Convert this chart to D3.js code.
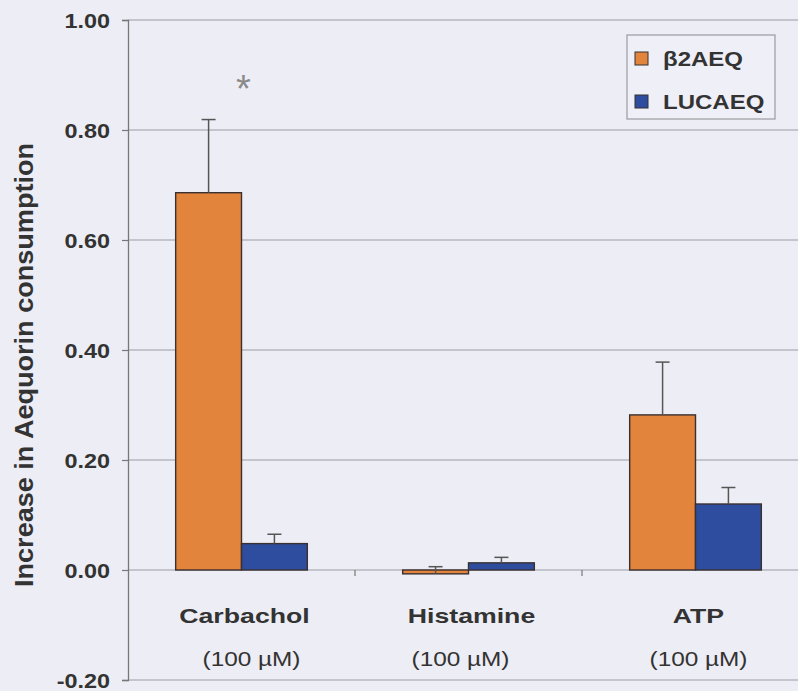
<!DOCTYPE html>
<html>
<head>
<meta charset="utf-8">
<script src="https://cdn.jsdelivr.net/npm/d3@7"></script>
<style>
  html, body { margin: 0; padding: 0; background: #ededf5; }
  svg { display: block; }
  text { font-family: "Liberation Sans", Arial, sans-serif; fill: #333; }
</style>
</head>
<body>
<svg id="chart" width="798" height="691"></svg>
<script>
// Agonist-induced increase in aequorin consumption, two aequorin constructs
const categories = ["Carbachol", "Histamine", "ATP"];
const concentrations = ["(100 µM)", "(100 µM)", "(100 µM)"];
const seriesNames = ["β2AEQ", "LUCAEQ"];
const beta2Values = [0.686, -0.007, 0.282];
const beta2Errors = [0.133, 0.013, 0.096];
const lucValues = [0.048, 0.013, 0.120];
const lucErrors = [0.017, 0.010, 0.030];
const yTicks = [-0.2, 0, 0.2, 0.4, 0.6, 0.8, 1.0];
const significance = ["*", "", ""];
const seriesColors = ["#e3843c", "#2e4d9e"];

const series = [
  { name: seriesNames[0], values: beta2Values, errors: beta2Errors, color: seriesColors[0] },
  { name: seriesNames[1], values: lucValues, errors: lucErrors, color: seriesColors[1] }
];

const svg = d3.select("#chart");
const plot = { left: 128, right: 809, top: 20, bottom: 680 };

const y = d3.scaleLinear().domain([-0.2, 1.0]).range([plot.bottom, plot.top]);
const x = d3.scaleBand().domain(categories).range([plot.left, plot.right]).padding(0);
const groupHalf = x.bandwidth() * 0.29;
const xs = d3.scaleBand().domain(seriesNames).range([-groupHalf, groupHalf]).padding(0);

// Stretch text horizontally to the wide lettering used throughout the figure
function widen(sel, k) {
  sel.each(function () {
    const len = this.getComputedTextLength();
    d3.select(this).attr("textLength", len * k).attr("lengthAdjust", "spacingAndGlyphs");
  });
}

// Horizontal gridlines (also serve as top and bottom frame)
svg.append("g")
  .selectAll("line")
  .data(yTicks)
  .join("line")
  .attr("x1", plot.left)
  .attr("x2", 812)
  .attr("y1", d => y(d))
  .attr("y2", d => y(d))
  .attr("stroke", "#9c9ca4")
  .attr("stroke-width", 1.2);

// Y axis with ticks and labels
const yAxis = d3.axisLeft(y)
  .tickValues(yTicks)
  .tickSize(6)
  .tickPadding(12)
  .tickFormat(d => d.toFixed(2));

const yg = svg.append("g")
  .attr("transform", `translate(${plot.left},0)`)
  .call(yAxis);
yg.select(".domain").attr("stroke", "#777").attr("stroke-width", 1.3);
yg.selectAll(".tick line").attr("stroke", "#777").attr("stroke-width", 1.2);
yg.selectAll(".tick text")
  .attr("font-family", "Liberation Sans, Arial, sans-serif")
  .attr("font-size", 20)
  .attr("font-weight", "bold")
  .attr("fill", "#333")
  .attr("dy", "0.36em")
  .call(widen, 1.17);

// Category separators on the zero line
svg.append("g")
  .selectAll("line")
  .data(categories.slice(1))
  .join("line")
  .attr("x1", d => x(d))
  .attr("x2", d => x(d))
  .attr("y1", y(0))
  .attr("y2", y(0) + 6)
  .attr("stroke", "#777")
  .attr("stroke-width", 1.2);

// Bars
const groups = svg.append("g")
  .selectAll("g")
  .data(categories)
  .join("g")
  .attr("transform", d => `translate(${x(d) + x.bandwidth() / 2},0)`);

groups.each(function (cat, i) {
  const g = d3.select(this);
  series.forEach(s => {
    const v = s.values[i];
    g.append("rect")
      .attr("x", xs(s.name))
      .attr("width", xs.bandwidth())
      .attr("y", y(Math.max(0, v)))
      .attr("height", Math.abs(y(v) - y(0)))
      .attr("fill", s.color)
      .attr("stroke", "#3a3030")
      .attr("stroke-width", 1.4);
  });
  // error bars (upper arm only)
  series.forEach(s => {
    const v = s.values[i], e = s.errors[i];
    const cx = xs(s.name) + xs.bandwidth() / 2;
    g.append("line")
      .attr("x1", cx).attr("x2", cx)
      .attr("y1", y(v)).attr("y2", y(v + e))
      .attr("stroke", "#555").attr("stroke-width", 1.5);
    g.append("line")
      .attr("x1", cx - 7).attr("x2", cx + 7)
      .attr("y1", y(v + e)).attr("y2", y(v + e))
      .attr("stroke", "#555").attr("stroke-width", 1.5);
  });
  // significance marker
  if (significance[i]) {
    const top = d3.max(series, s => s.values[i] + s.errors[i]);
    g.append("text")
      .attr("x", 2)
      .attr("y", y(top) - 18)
      .attr("text-anchor", "middle")
      .attr("font-size", 38)
      .style("fill", "#8a8a8a")
      .text(significance[i]);
  }
});

// Category labels
const labelNudge = [10, -8, 3];
svg.append("g")
  .selectAll("text")
  .data(categories)
  .join("text")
  .attr("x", d => x(d) + x.bandwidth() / 2 + 3)
  .attr("y", 623)
  .attr("text-anchor", "middle")
  .attr("font-size", 21)
  .attr("font-weight", "bold")
  .text(d => d)
  .call(widen, 1.27);

svg.append("g")
  .selectAll("text")
  .data(concentrations)
  .join("text")
  .attr("x", (d, i) => x(categories[i]) + x.bandwidth() / 2 + labelNudge[i])
  .attr("y", 666)
  .attr("text-anchor", "middle")
  .attr("font-size", 21)
  .text(d => d)
  .call(widen, 1.16);

// Y axis title
svg.append("text")
  .attr("transform", `translate(33,${(143 + 587) / 2}) rotate(-90)`)
  .attr("text-anchor", "middle")
  .attr("font-size", 26)
  .attr("font-weight", "bold")
  .attr("textLength", 444)
  .attr("lengthAdjust", "spacingAndGlyphs")
  .text("Increase in Aequorin consumption");

// Legend
const legend = svg.append("g").attr("transform", "translate(627,35)");
legend.append("rect")
  .attr("width", 148).attr("height", 84)
  .attr("fill", "#efeff7")
  .attr("stroke", "#9a9aa0")
  .attr("stroke-width", 1.2);
const items = legend.selectAll("g.item")
  .data(series)
  .join("g")
  .attr("class", "item")
  .attr("transform", (d, i) => `translate(8,${17 + i * 43})`);
items.append("rect")
  .attr("width", 13).attr("height", 13)
  .attr("fill", d => d.color)
  .attr("stroke", "#333")
  .attr("stroke-width", 1);
items.append("text")
  .attr("x", 28)
  .attr("y", 14)
  .attr("font-size", 20)
  .attr("font-weight", "bold")
  .text(d => d.name)
  .call(widen, 1.2);
</script>
</body>
</html>
